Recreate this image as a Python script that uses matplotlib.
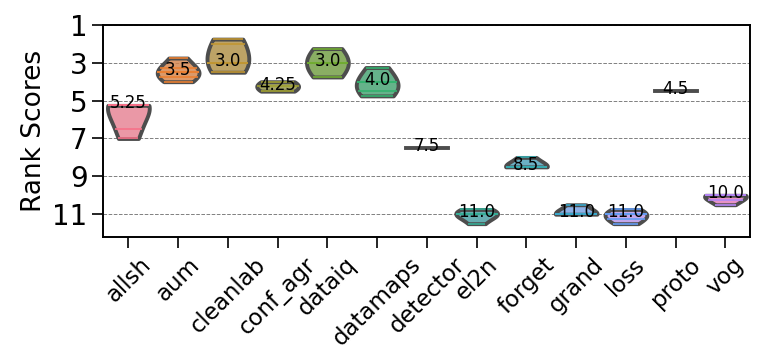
import numpy as np
import pandas as pd
import matplotlib
matplotlib.use("Agg")
import matplotlib.pyplot as plt
import seaborn as sns
from matplotlib.collections import LineCollection

# rank scores per method
methods = ["allsh", "aum", "cleanlab", "conf_agr", "dataiq", "datamaps", "detector",
           "el2n", "forget", "grand", "loss", "proto", "vog"]
allsh = [5.25, 5.25, 5.25, 5.25, 6.5, 7.0]
aum = [2.75, 3.25, 3.5, 3.5, 3.75, 4.0]
cleanlab = [1.75, 2.0, 3.0, 3.0, 3.5]
conf_agr = [4.0, 4.25, 4.5]
dataiq = [2.25, 3.0, 3.0, 3.75]
datamaps = [3.25, 4.0, 4.0, 4.5, 4.75]
detector = [7.5, 7.5, 7.5]
el2n = [10.75, 11.0, 11.0, 11.0, 11.5]
forget = [8.0, 8.5, 8.5, 8.5]
grand = [10.5, 11.0, 11.0, 11.0]
loss = [10.75, 11.0, 11.0, 11.25, 11.5]
proto = [4.5, 4.5, 4.5]
vog = [10.0, 10.0, 10.0, 10.25, 10.5]

ranks = [allsh, aum, cleanlab, conf_agr, dataiq, datamaps, detector,
         el2n, forget, grand, loss, proto, vog]

rows = []
for m, vals in zip(methods, ranks):
    for v in vals:
        rows.append((m, v))
df = pd.DataFrame(rows, columns=["method", "rank"])

pal = sns.husl_palette(len(methods))

fig = plt.figure(figsize=(7.61, 3.51), dpi=100)
ax = fig.add_axes([0.136, 0.325, 0.85, 0.604])

sns.violinplot(data=df, x="method", y="rank", hue="method", palette=pal, legend=False,
               order=methods, cut=0, inner="stick", density_norm="width", bw_adjust=1.4,
               width=0.84, linewidth=2.8, linecolor="0.3", saturation=0.75, ax=ax)

# sticks in the plain palette colours, lighter fills
lcs = [c for c in ax.collections if isinstance(c, LineCollection)]
for c, col in zip(lcs, pal):
    c.set_color(col)
    c.set_linewidth(1.2)
for c in ax.collections:
    if not isinstance(c, LineCollection):
        c.set_joinstyle("round")
        fc = c.get_facecolor()
        if len(fc):
            r, g, b, _ = fc[0]
            c.set_facecolor((r, g, b, 0.82))

# median labels
for i, vals in enumerate(ranks):
    med = np.median(vals)
    ax.text(i, med - 0.1, str(med), ha="center", va="center", fontsize=12)

ax.set_ylim(12.2, 1)
ax.set_yticks([1, 3, 5, 7, 9, 11])
ax.yaxis.grid(True, linestyle="--", color="gray", linewidth=0.7)
ax.set_axisbelow(True)
ax.set_xlabel("")
ax.set_ylabel("Rank Scores", fontsize=19)
ax.tick_params(axis="y", labelsize=20, length=8, width=1.2)
ax.tick_params(axis="x", labelsize=16.5, length=8, width=1.2)
for s in ax.spines.values():
    s.set_linewidth(1.4)
plt.setp(ax.get_xticklabels(), rotation=45)

fig.savefig("out.png", dpi=100)
